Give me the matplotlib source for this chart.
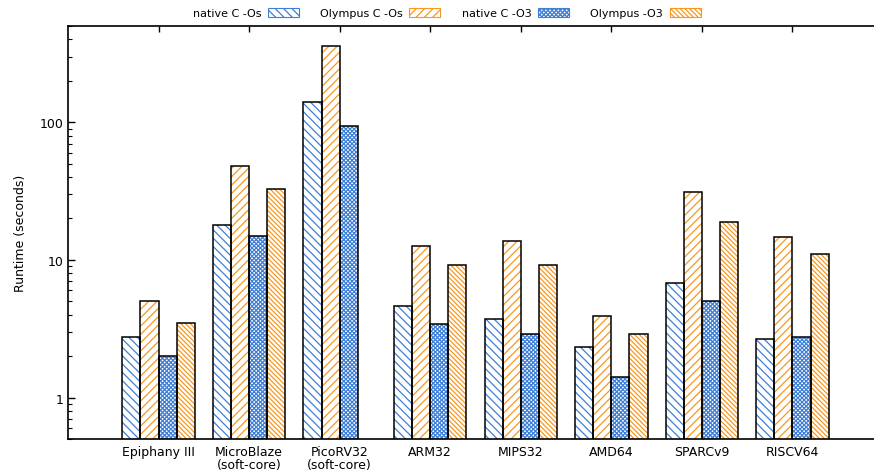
import numpy as np
import matplotlib
matplotlib.use("Agg")
import matplotlib.pyplot as plt
from matplotlib.patches import Patch
from matplotlib.ticker import FixedLocator, FixedFormatter, LogLocator, NullFormatter

categories = ["Epiphany III", "MicroBlaze\n(soft-core)", "PicoRV32\n(soft-core)", "ARM32",
              "MIPS32", "AMD64", "SPARCv9", "RISCV64"]
native_os = [2.77, 17.8, 141, 4.62, 3.69, 2.32, 6.78, 2.66]
olympus_os = [5.02, 48.3, 355, 12.6, 13.7, 3.91, 30.9, 14.6]
native_o3 = [2.0, 14.9, 94, 3.42, 2.88, 1.40, 5.05, 2.74]
olympus_o3 = [3.48, 33.0, np.nan, 9.15, 9.15, 2.88, 18.9, 11.1]
series_labels = ["native C -Os", "Olympus C -Os", "native C -O3", "Olympus -O3"]

BLUE = "#3f7fd6"
ORANGE = "#f8971f"
styles = [(BLUE, "\\\\\\\\"), (ORANGE, "////"), (BLUE, "xxxxxxxx"), (ORANGE, "\\\\\\\\\\\\\\")]

plt.rcParams["font.family"] = ["DejaVu Sans"]
plt.rcParams["hatch.linewidth"] = 0.9

fig = plt.figure(figsize=(8.74, 4.77), dpi=100)
ax = fig.add_axes([68 / 874, 1 - 440 / 477, 1 - 68 / 874, (440 - 27) / 477])

x = np.arange(len(categories))
w = 0.2
series = [native_os, olympus_os, native_o3, olympus_o3]
handles = []
for i, (vals, (col, hatch)) in enumerate(zip(series, styles)):
    pos = x + (i - 1.5) * w
    v = np.array(vals, dtype=float)
    ax.bar(pos, v, w, color="white", edgecolor=col, hatch=hatch, linewidth=0, zorder=2)
    ax.bar(pos, v, w, fill=False, edgecolor="black", linewidth=1.1, zorder=3)
    handles.append(Patch(facecolor="white", edgecolor=col, hatch=hatch, linewidth=0.8))

ax.set_yscale("log")
ax.set_ylim(0.5, 500)
ax.set_xlim(-1, 7.9)

ax.yaxis.set_major_locator(FixedLocator([1, 10, 100]))
ax.yaxis.set_major_formatter(FixedFormatter(["1", "10", "100"]))
ax.yaxis.set_minor_locator(LogLocator(base=10, subs=np.arange(2, 10)))
ax.yaxis.set_minor_formatter(NullFormatter())
ax.tick_params(axis="y", which="major", direction="in", length=5, width=1, labelsize=9)
ax.tick_params(axis="y", which="minor", direction="in", length=3, width=0.8)

ax.set_xticks(x)
ax.set_xticklabels(categories, fontsize=9, linespacing=1.05)
ax.tick_params(axis="x", which="both", direction="in", length=4, width=1, top=True, bottom=True, pad=4)
ax.xaxis.set_minor_locator(FixedLocator([]))

for s in ["left", "top", "bottom"]:
    ax.spines[s].set_linewidth(1.2)
ax.spines["right"].set_visible(False)

ax.set_ylabel("Runtime (seconds)", fontsize=9, labelpad=9)

fig.legend(handles, series_labels, loc="center", bbox_to_anchor=(0.511, 1 - 14 / 477), ncol=4,
           frameon=False, markerfirst=False, fontsize=8, handlelength=2.8, handleheight=0.9,
           columnspacing=1.9, handletextpad=0.6)

fig.savefig("out.png", dpi=100)
